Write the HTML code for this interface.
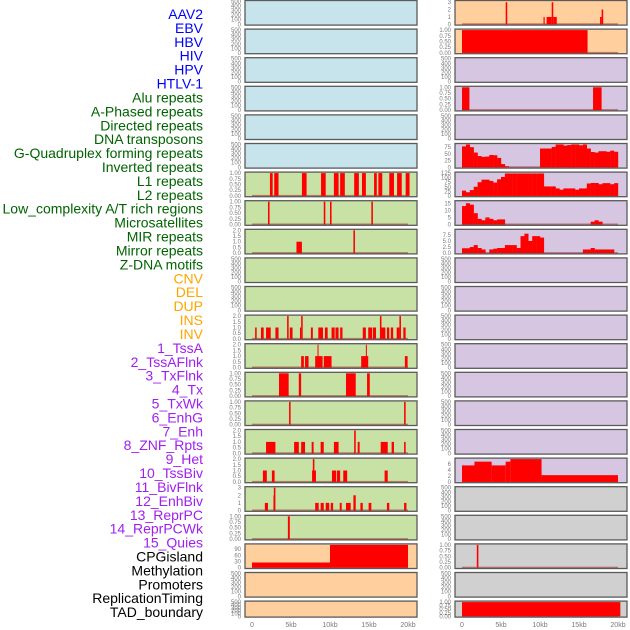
<!DOCTYPE html>
<html><head><meta charset="utf-8"><style>
html,body{margin:0;padding:0;background:#fff;width:630px;height:630px;overflow:hidden}
svg{display:block;font-family:"Liberation Sans",sans-serif}
</style></head><body>
<svg id="chart" width="630" height="630" viewBox="0 0 630 630" xmlns="http://www.w3.org/2000/svg"></svg>
<script>
// ---- data ----
const trackLabels=["AAV2","EBV","HBV","HIV","HPV","HTLV-1","Alu repeats","A-Phased repeats","Directed repeats","DNA transposons","G-Quadruplex forming repeats","Inverted repeats","L1 repeats","L2 repeats","Low_complexity A/T rich regions","Microsatellites","MIR repeats","Mirror repeats","Z-DNA motifs","CNV","DEL","DUP","INS","INV","1_TssA","2_TssAFlnk","3_TxFlnk","4_Tx","5_TxWk","6_EnhG","7_Enh","8_ZNF_Rpts","9_Het","10_TssBiv","11_BivFlnk","12_EnhBiv","13_ReprPC","14_ReprPCWk","15_Quies","CPGisland","Methylation","Promoters","ReplicationTiming","TAD_boundary"];
const labelColors=["#0000ff","#0000ff","#0000ff","#0000ff","#0000ff","#0000ff","#006400","#006400","#006400","#006400","#006400","#006400","#006400","#006400","#006400","#006400","#006400","#006400","#006400","#ffa500","#ffa500","#ffa500","#ffa500","#ffa500","#a020f0","#a020f0","#a020f0","#a020f0","#a020f0","#a020f0","#a020f0","#a020f0","#a020f0","#a020f0","#a020f0","#a020f0","#a020f0","#a020f0","#a020f0","#000","#000","#000","#000","#000"];
const xTickValues=[0,5,10,15,20];
const xTickLabels=["0","5kb","10kb","15kb","20kb"];
const emptyTicks=[0,100,200,300,400,500];
const unitTicks=[0,0.25,0.5,0.75,1];
const unitTickLabels=["0.00","0.25","0.50","0.75","1.00"];
const twoTicks=[0,0.5,1,1.5,2];
const threeTicks=[0,1,2,3];

// left column bar data (start kb, end kb, value)
const L6=[[2.3,2.65,1],[2.85,3.4,1],[6.4,7.0,1],[8.85,9.45,1],[10.5,11.1,1],[11.3,11.9,1],[13.1,13.7,1],[14.1,14.6,1],[15.65,16.0,1],[16.2,16.7,1],[17.6,18.2,1],[18.6,19.2,1],[19.7,20.2,1]];
const L7=[[2.05,2.25,1],[9.2,9.4,1],[10.0,10.2,1],[15.3,15.5,1]];
const L8=[[5.7,6.4,1],[13.0,13.2,2]];
const L11=[[0.4,0.6,1],[1.15,1.5,1],[1.8,2.4,1],[3.0,3.4,1],[4.5,4.7,2],[4.85,5.2,1],[6.15,6.3,1],[6.3,6.5,2],[7.55,7.8,1],[8.5,9.1,1],[9.35,9.7,1],[10.2,10.6,1],[10.7,11.1,1],[11.3,11.6,1],[14.2,14.6,1],[14.9,15.4,1],[15.5,15.9,1],[16.4,16.6,2],[16.6,17.1,1],[17.3,17.6,1],[17.8,18.1,1],[18.55,18.9,1],[18.9,19.1,2],[19.4,19.7,1]];
const L12=[[6.3,6.65,1],[6.8,7.25,1],[8.1,9.05,1],[8.4,8.5,2],[9.2,10.2,1],[14.0,14.9,1],[14.6,14.7,2],[19.6,19.95,1]];
const L13=[[3.46,4.7,1],[6.0,6.3,1],[12.05,13.3,1],[14.75,15.1,1]];
const L14=[[4.75,4.95,1],[19.5,19.7,1]];
const L15=[[1.8,3.0,1],[5.4,6.0,1],[6.3,6.8,1],[7.65,7.9,1],[8.8,9.2,1],[10.5,11.1,1],[13.1,13.3,2],[13.55,13.8,1],[16.5,17.4,1],[17.9,18.2,1],[19.5,19.7,1]];
const L16=[[1.4,1.9,1],[2.55,2.9,1],[7.7,8.2,1],[7.8,8.0,2],[10.25,10.8,1],[10.9,11.3,1],[11.7,12.2,1],[17.0,17.4,1]];
const L17=[[1.65,2.05,1],[2.75,2.8,2],[2.8,3.0,3],[8.1,8.55,1],[8.8,9.2,1],[9.45,9.9,1],[10.1,10.4,1],[11.25,11.5,1],[12.05,12.65,1],[13.0,13.3,2],[13.9,14.2,1],[14.95,15.3,1],[17.3,17.6,1],[19.5,19.8,1]];
const L18=[[4.6,4.85,1]];
const L19=[[0,10,25],[10,20,110]];
// right column bar data
const R0=[[5.6,5.8,3],[10.45,10.6,1],[10.85,11.5,1],[11.5,11.7,3],[11.7,12.15,1],[17.7,17.9,1],[17.9,18.1,2]];
const R1=[[0,16.1,1]];
const R3=[[0,0.95,1],[16.8,17.9,1]];
const R16=[[0,1.6,5.5],[1.6,3.8,6.75],[3.8,5.6,5.5],[5.6,6.2,6.75],[6.2,10.2,7.6],[10.2,20,2.25]];
const R19=[[1.9,2.1,1]];
const R21=[[0,20.3,1]];
// right column binned profiles (0.5 kb bins from 0 to 20 kb)
const gquadBins=[78,85,75,55,42,39,40,46,45,35,12,4,0,0,0,0,0,0,0,0,70,70,70,76,85,85,81,83,85,85,82,85,70,57,55,60,60,58,62,58];
const l1Bins=[29,20,32,50,75,89,89,82,73,91,104,123,123,123,123,123,123,123,123,123,123,52,52,52,41,34,41,41,41,34,41,41,68,71,71,64,70,70,64,70];
const lowBins=[13,15,14,8,4,3,5,4,3,3.6,3.6,0,0,0,0,0,0,0,0,0,0,0,0,0,0,0,0,0,0,0,0,0,0,2,3,2,0,0,0,0];
const mirBins=[2,2,2.5,3.3,2.1,1.5,0,1.5,1.8,2.1,2.1,3.3,3.3,3.3,2.1,7,8,5,7,7,6.4,0,0,0,0,0,0,0,0,0,0,1.5,1.5,2.1,1.5,1.5,1.5,1.5,1.5,0];

// ---- layout ----
const BLUE="#c7e3ec",GREEN="#c8e1a4",PEACH="#ffd09e",PURPLE="#d6c6e2",GRAY="#d0d0d0";
const colX=[245,455],panelW=172,kbPx=7.8,kbOff=7;
function rowTop(i){return 0.5+i*28.6;}
function rowH(i){return i===21?16:24.6;}
function leftCfg(i){
  const bg=i<6?BLUE:(i<19?GREEN:PEACH);
  const m={6:[L6,1,'u'],7:[L7,1,'u'],8:[L8,2,'2'],11:[L11,2,'2'],12:[L12,2,'2'],13:[L13,1,'u'],14:[L14,1,'u'],15:[L15,2,'2'],16:[L16,2,'2'],17:[L17,3,'3'],18:[L18,1,'u'],19:[L19,110,'m']};
  if(m[i]) return {bg,bars:m[i][0],yMax:m[i][1],tk:m[i][2]};
  return {bg,yMax:500,tk:'e'};
}
function rightCfg(i){
  const bg=i<2?PEACH:(i<17?PURPLE:GRAY);
  const m={0:[R0,3.1,'3'],1:[R1,1,'u'],3:[R3,1,'u'],16:[R16,7.6,'6'],19:[R19,1,'u'],21:[R21,1,'u']};
  if(m[i]) return {bg,bars:m[i][0],yMax:m[i][1],tk:m[i][2]};
  const b={5:[gquadBins,85,'g'],6:[l1Bins,125,'l1'],7:[lowBins,16.1,'lo'],8:[mirBins,9.4,'mir']};
  if(b[i]) return {bg,bins:b[i][0],yMax:b[i][1],tk:b[i][2]};
  return {bg,yMax:500,tk:'e'};
}
function tickSet(k){
  switch(k){
    case 'u':return [unitTicks,unitTickLabels];
    case '2':return [twoTicks,twoTicks.map(String).map(s=>s.includes('.')?s:s+'.0')];
    case '3':return [threeTicks,threeTicks.map(String)];
    case 'm':return [[0,30,60,90],["0","30","60","90"]];
    case '6':return [[0,2,4,6],["0","2","4","6"]];
    case 'g':return [[0,25,50,75],["0","25","50","75"]];
    case 'l1':return [[0,25,50,75,100,125],["0","25","50","75","100","125"]];
    case 'lo':return [[0,5,10,15],["0","5","10","15"]];
    case 'mir':return [[0,2.5,5,7.5],["0.0","2.5","5.0","7.5"]];
    default:return [emptyTicks,emptyTicks.map(String)];
  }
}
const NS="http://www.w3.org/2000/svg";
const svg=document.getElementById('chart');
function mk(t,a,p){const e=document.createElementNS(NS,t);for(const k in a)e.setAttribute(k,a[k]);(p||svg).appendChild(e);return e;}

// labels
trackLabels.forEach((s,i)=>{
  const t=mk('text',{x:203,y:19+i*13.91,'text-anchor':'end','font-size':14,fill:labelColors[i]});
  t.textContent=s;
  
  
});

for(let c=0;c<2;c++){
  for(let i=0;i<22;i++){
    const cfg=c===0?leftCfg(i):rightCfg(i);
    const top=rowTop(i),h=rowH(i),x=colX[c];
    const g=mk('g',{});
    
    
    mk('rect',{x:x,y:top,width:panelW,height:h,fill:cfg.bg},g);
    const y0=top+h-0.8,yt=top+1;
    const Y=v=>y0-Math.min(v,cfg.yMax)/cfg.yMax*(y0-yt);
    const X=kb=>x+kbOff+kb*kbPx;
    const hasData=cfg.bars||cfg.bins;
    if(hasData){
      const bl=mk('rect',{x:X(0),y:y0-1,width:X(20)-X(0),height:1.5,fill:'rgba(150,0,0,0.45)'},g);
      
      
    }
    if(cfg.bars){
      cfg.bars.forEach(b=>{
        const r=mk('rect',{x:X(b[0]),y:Y(b[2]),width:Math.max(1,X(b[1])-X(b[0])),height:y0-Y(b[2]),fill:'#ff0000'},g);
        
        
      });
    }
    if(cfg.bins){
      cfg.bins.forEach((v,k)=>{
        if(v<=0)return;
        const r=mk('rect',{x:X(k*0.5),y:Y(v),width:0.5*kbPx+0.2,height:y0-Y(v),fill:'#ff0000'},g);
        
        
      });
    }
    mk('rect',{x:x,y:top,width:panelW,height:h,fill:'none',stroke:'#5a5a5a','stroke-width':1.3},g);
    const [tv,tl]=tickSet(cfg.tk);
    tv.forEach((v,k)=>{
      const t=mk('text',{x:x-4,y:Y(v)+2,'text-anchor':'end','font-size':6,fill:'#7a7a7a'},g);
      t.textContent=tl[k];
      
      
    });
  }
  xTickValues.forEach((v,k)=>{
    const t=mk('text',{x:colX[c]+kbOff+v*kbPx,y:627,'text-anchor':'middle','font-size':7,fill:'#7a7a7a'});
    t.textContent=xTickLabels[k];
    
    
  });
}
</script>
</body></html>
